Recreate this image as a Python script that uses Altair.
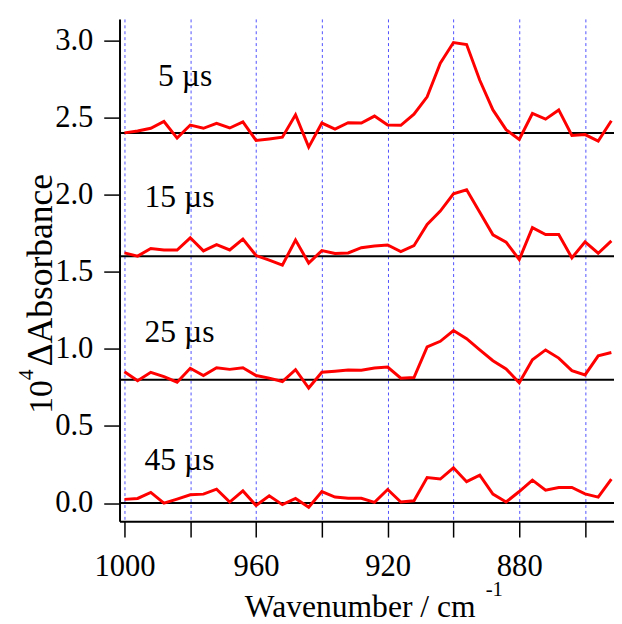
import altair as alt
import pandas as pd

wavenumber = [1000, 996, 992, 988, 984, 980, 976, 972, 968, 964, 960, 956, 952,
              948, 944, 940, 936, 932, 928, 924, 920, 916, 912, 908, 904, 900,
              896, 892, 888, 884, 880, 876, 872, 868, 864, 860, 856, 852]

abs_5us = [2.400, 2.412, 2.430, 2.474, 2.366, 2.451, 2.430, 2.462, 2.432, 2.472,
           2.351, 2.361, 2.372, 2.517, 2.308, 2.464, 2.425, 2.466, 2.464, 2.509,
           2.451, 2.449, 2.521, 2.634, 2.852, 2.986, 2.973, 2.741, 2.549, 2.421,
           2.357, 2.526, 2.489, 2.549, 2.383, 2.389, 2.347, 2.479]

abs_15us = [1.622, 1.601, 1.650, 1.641, 1.641, 1.720, 1.635, 1.675, 1.641, 1.712,
            1.605, 1.575, 1.543, 1.705, 1.556, 1.637, 1.618, 1.622, 1.656, 1.667,
            1.673, 1.630, 1.669, 1.807, 1.893, 2.005, 2.031, 1.886, 1.739, 1.692,
            1.579, 1.786, 1.741, 1.741, 1.590, 1.694, 1.620, 1.700]

abs_25us = [0.852, 0.793, 0.848, 0.820, 0.784, 0.874, 0.827, 0.878, 0.867, 0.878,
            0.827, 0.810, 0.788, 0.865, 0.746, 0.848, 0.855, 0.863, 0.861, 0.876,
            0.882, 0.810, 0.814, 1.012, 1.049, 1.119, 1.066, 0.993, 0.923, 0.870,
            0.780, 0.929, 0.993, 0.940, 0.859, 0.831, 0.955, 0.976]

abs_45us = [0.024, 0.030, 0.069, 0.000, 0.026, 0.054, 0.058, 0.090, 0.007, 0.079,
            -0.015, 0.047, -0.010, 0.030, -0.027, 0.075, 0.039, 0.032, 0.031, 0.005,
            0.088, 0.007, 0.015, 0.165, 0.156, 0.229, 0.139, 0.181, 0.058, 0.007,
            0.075, 0.149, 0.084, 0.101, 0.101, 0.060, 0.039, 0.156]

series_names = ["5 µs", "15 µs", "25 µs", "45 µs"]
baselines = [2.4, 1.6, 0.8, 0.0]
label_x = [989.8, 993.9, 993.9, 993.9]
label_y = [2.705, 1.920, 1.042, 0.217]

x_ticks = [1000, 980, 960, 940, 920, 900, 880, 860]
y_ticks = [0.0, 0.5, 1.0, 1.5, 2.0, 2.5, 3.0]

FONT = "Liberation Serif"

rows = []
for name, vals in zip(series_names, [abs_5us, abs_15us, abs_25us, abs_45us]):
    for w, v in zip(wavenumber, vals):
        rows.append({"wn": w, "val": v, "series": name})
df = pd.DataFrame(rows)

base_df = pd.DataFrame({"y": baselines})
lab_df = pd.DataFrame({"text": series_names, "x": label_x, "y": label_y})

xscale = alt.Scale(domain=[851.2, 1001.5], reverse=True, nice=False, zero=False)
yscale = alt.Scale(domain=[-0.118, 3.139], nice=False, zero=False)

xaxis = alt.Axis(values=x_ticks, format="d",
                 labelExpr="datum.value % 40 == 0 ? datum.label : ''",
                 grid=True, gridDash=[3, 3], gridColor="#4f4fff", gridWidth=1,
                 tickSize=16, tickWidth=1.5, tickColor="black",
                 domainColor="black", domainWidth=2,
                 labelFont=FONT, labelFontSize=31, labelColor="black",
                 labelBaseline="alphabetic", labelPadding=39, labelFlush=False,
                 labelOverlap=False, title=None)
yaxis = alt.Axis(values=y_ticks, format=".1f", grid=False,
                 tickSize=16, tickWidth=1.5, tickColor="black",
                 domainColor="black", domainWidth=2,
                 labelFont=FONT, labelFontSize=31, labelColor="black",
                 labelPadding=11, labelFlush=False, labelOverlap=False, title=None)

lines = alt.Chart(df).mark_line(color="#ff0000", strokeWidth=3, clip=True).encode(
    x=alt.X("wn:Q", scale=xscale, axis=xaxis),
    y=alt.Y("val:Q", scale=yscale, axis=yaxis),
    detail="series:N",
    order="wn:Q",
)

rules = alt.Chart(base_df).mark_rule(color="black", strokeWidth=2).encode(
    y=alt.Y("y:Q", scale=yscale)
)

labels = alt.Chart(lab_df).mark_text(
    font=FONT, fontSize=32, color="black", align="left", baseline="alphabetic"
).encode(
    x=alt.X("x:Q", scale=xscale),
    y=alt.Y("y:Q", scale=yscale),
    text="text:N",
)

xtitle = alt.Chart(pd.DataFrame({"t": ["Wavenumber / cm"]})).mark_text(
    font=FONT, fontSize=32, color="black", align="left", baseline="alphabetic"
).encode(x=alt.value(127), y=alt.value(606), text="t:N")

xsup = alt.Chart(pd.DataFrame({"t": ["-1"]})).mark_text(
    font=FONT, fontSize=21, color="black", align="left", baseline="alphabetic"
).encode(x=alt.value(371), y=alt.value(585), text="t:N")

ytitle = alt.Chart(pd.DataFrame({"t": ["ΔAbsorbance"]})).mark_text(
    font=FONT, fontSize=36, color="black", align="left", baseline="alphabetic", angle=270
).encode(x=alt.value(-68), y=alt.value(352), text="t:N")

ytitle10 = alt.Chart(pd.DataFrame({"t": ["10"]})).mark_text(
    font=FONT, fontSize=34, color="black", align="left", baseline="alphabetic", angle=270
).encode(x=alt.value(-68), y=alt.value(400), text="t:N")

ysup = alt.Chart(pd.DataFrame({"t": ["4"]})).mark_text(
    font=FONT, fontSize=22, color="black", align="left", baseline="alphabetic", angle=270
).encode(x=alt.value(-88), y=alt.value(366), text="t:N")

chart = alt.layer(rules, lines, labels, xtitle, xsup, ytitle, ytitle10, ysup).properties(
    width=501, height=509,
    autosize=alt.AutoSizeParams(type="none"),
    padding={"left": 113, "top": 7, "right": 0, "bottom": 100},
).configure_view(stroke=None)

chart.save("out.html", embed_options={"renderer": "svg", "actions": False})
